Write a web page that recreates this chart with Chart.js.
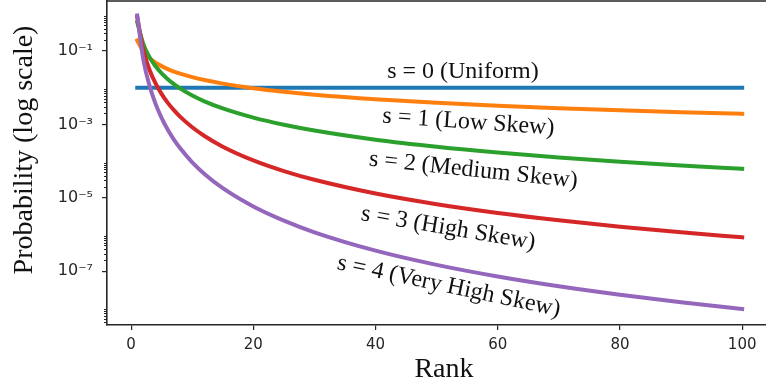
<!DOCTYPE html>
<html>
<head>
<meta charset="utf-8">
<script src="https://cdn.jsdelivr.net/npm/chart.js@4.4.1/dist/chart.umd.min.js"></script>
<style>
  html, body { margin: 0; padding: 0; background: #fff; }
  #zipf { display: block; }
</style>
</head>
<body>
<canvas id="zipf" width="766" height="383"></canvas>
<script>
'use strict'

// values
var ranks = [1, 2, 3, 4, 5, 6, 7, 8, 10, 12, 15, 20, 25, 30, 40, 50, 60, 70, 80, 90, 100];
var seriesNames = ['s = 0 (Uniform)', 's = 1 (Low Skew)', 's = 2 (Medium Skew)', 's = 3 (High Skew)', 's = 4 (Very High Skew)'];
var s0 = [0.01, 0.01, 0.01, 0.01, 0.01, 0.01, 0.01, 0.01, 0.01, 0.01, 0.01, 0.01, 0.01, 0.01, 0.01, 0.01, 0.01, 0.01, 0.01, 0.01, 0.01];
var s1 = [0.193, 0.0964, 0.0643, 0.0482, 0.0386, 0.0321, 0.0275, 0.0241, 0.0193, 0.0161, 0.0129, 0.00964, 0.00771, 0.00643, 0.00482, 0.00386, 0.00321, 0.00275, 0.00241, 0.00214, 0.00193];
var s2 = [0.612, 0.153, 0.068, 0.0382, 0.0245, 0.017, 0.0125, 0.00956, 0.00612, 0.00425, 0.00272, 0.00153, 0.000979, 0.00068, 0.000382, 0.000245, 0.00017, 0.000125, 0.0000956, 0.0000755, 0.0000612];
var s3 = [0.832, 0.104, 0.0308, 0.013, 0.00666, 0.00385, 0.00243, 0.00162, 0.000832, 0.000481, 0.000246, 0.000104, 0.0000532, 0.0000308, 0.000013, 0.00000666, 0.00000385, 0.00000243, 0.00000162, 0.00000114, 0.000000832];
var s4 = [0.924, 0.0577, 0.0114, 0.00361, 0.00148, 0.000713, 0.000385, 0.000226, 0.0000924, 0.0000446, 0.0000182, 0.00000577, 0.00000237, 0.00000114, 0.000000361, 0.000000148, 0.0000000713, 0.0000000385, 0.0000000226, 0.0000000141, 0.00000000924];
var xTicks = [0, 20, 40, 60, 80, 100];
var yTicks = [1e-1, 1e-3, 1e-5, 1e-7];
var yTickLabels = ['10\u207B\u00B9', '10\u207B\u00B3', '10\u207B\u2075', '10\u207B\u2077'];
var minorDecades = [1e-1, 1e-3, 1e-5, 1e-7, 1e-9];
var minorSubs = [2, 3, 4, 5, 6, 7, 8, 9];

var colors = ['#1f77b4', '#ff7f0e', '#2ca02c', '#d62728', '#9467bd'];
var axisColor = '#262626';
var serif = '"Liberation Serif", "DejaVu Serif", serif';

function points(vals) {
    return ranks.map(function(r, i) { return { x: r, y: vals[i] }; });
}

var allSeries = [s0, s1, s2, s3, s4];
var datasets = allSeries.map(function(vals, i) {
    return {
        label: seriesNames[i],
        data: points(vals),
        borderColor: colors[i],
        backgroundColor: colors[i],
        borderWidth: 4,
        borderCapStyle: 'square',
        pointRadius: 0,
        cubicInterpolationMode: 'monotone',
        fill: false,
        order: 4 - i
    };
});

// curve captions: anchor in data units, rotation in degrees
var curveLabels = [
    { x: 54.3, y: 0.0279, angle: 0 },
    { x: 55.2, y: 0.00114, angle: 4 },
    { x: 56.0, y: 0.000056, angle: 6 },
    { x: 51.9, y: 0.00000146, angle: 9.5 },
    { x: 52.0, y: 0.000000038, angle: 12 }
];

var extras = {
    id: 'extras',
    afterDatasetsDraw: function(chart) {
        var ctx = chart.ctx, area = chart.chartArea;
        var xs = chart.scales.x, ys = chart.scales.y;
        ctx.save();

        // top spine
        ctx.strokeStyle = axisColor;
        ctx.lineWidth = 1.6;
        ctx.beginPath();
        ctx.moveTo(area.left, area.top);
        ctx.lineTo(area.right, area.top);
        ctx.stroke();

        // minor ticks on log axis
        ctx.lineWidth = 1;
        minorDecades.forEach(function(d) {
            minorSubs.forEach(function(k) {
                var v = k * d;
                if (v < ys.min || v > ys.max) return;
                var py = Math.round(ys.getPixelForValue(v)) + 0.5;
                ctx.beginPath();
                ctx.moveTo(area.left - 3, py);
                ctx.lineTo(area.left, py);
                ctx.stroke();
            });
        });

        // captions on curves
        ctx.fillStyle = '#111';
        ctx.font = '24px ' + serif;
        ctx.textAlign = 'center';
        ctx.textBaseline = 'middle';
        curveLabels.forEach(function(lb, i) {
            ctx.save();
            ctx.translate(xs.getPixelForValue(lb.x), ys.getPixelForValue(lb.y));
            ctx.rotate(lb.angle * Math.PI / 180);
            ctx.fillText(seriesNames[i], 0, 0);
            ctx.restore();
        });

        // axis titles
        ctx.font = '28px ' + serif;
        ctx.textBaseline = 'alphabetic';
        ctx.fillText('Rank', 444, 377);
        ctx.save();
        ctx.translate(32, 150);
        ctx.rotate(-Math.PI / 2);
        ctx.fillText('Probability (log scale)', 0, 0);
        ctx.restore();

        ctx.restore();
    }
};

var ctxzipf = document.getElementById('zipf');
var zipfChart = new Chart(ctxzipf, {
    type: 'line',
    data: { datasets: datasets },
    plugins: [extras],
    options: {
        responsive: false,
        animation: false,
        layout: { padding: { top: 1, right: 0, bottom: 0, left: 0 } },
        plugins: {
            legend: { display: false },
            tooltip: { enabled: false }
        },
        scales: {
            x: {
                type: 'linear',
                min: -3.95,
                max: 103.9,
                afterFit: function(scale) {
                    scale.height = 58;
                    scale.paddingLeft = 0;
                    scale.paddingRight = 0;
                },
                afterBuildTicks: function(scale) {
                    scale.ticks = xTicks.map(function(v) { return { value: v }; });
                },
                border: { color: axisColor, width: 1.6 },
                grid: { drawOnChartArea: false, tickLength: 5, color: axisColor, lineWidth: 1.2 },
                ticks: {
                    color: '#262626',
                    padding: 6,
                    maxRotation: 0,
                    autoSkip: false,
                    font: { family: '"DejaVu Sans", sans-serif', size: 15 }
                }
            },
            y: {
                type: 'logarithmic',
                min: 3.4e-9,
                max: 2.3,
                afterFit: function(scale) {
                    scale.width = 107;
                    scale.paddingTop = 0;
                    scale.paddingBottom = 0;
                },
                afterBuildTicks: function(scale) {
                    scale.ticks = yTicks.map(function(v) { return { value: v }; });
                },
                border: { color: axisColor, width: 1.6 },
                grid: { drawOnChartArea: false, tickLength: 5, color: axisColor, lineWidth: 1.2 },
                ticks: {
                    color: '#262626',
                    padding: 9,
                    autoSkip: false,
                    font: { family: '"DejaVu Sans", sans-serif', size: 16 },
                    callback: function(value, index) { return yTickLabels[index]; }
                }
            }
        }
    }
});
</script>
</body>
</html>
